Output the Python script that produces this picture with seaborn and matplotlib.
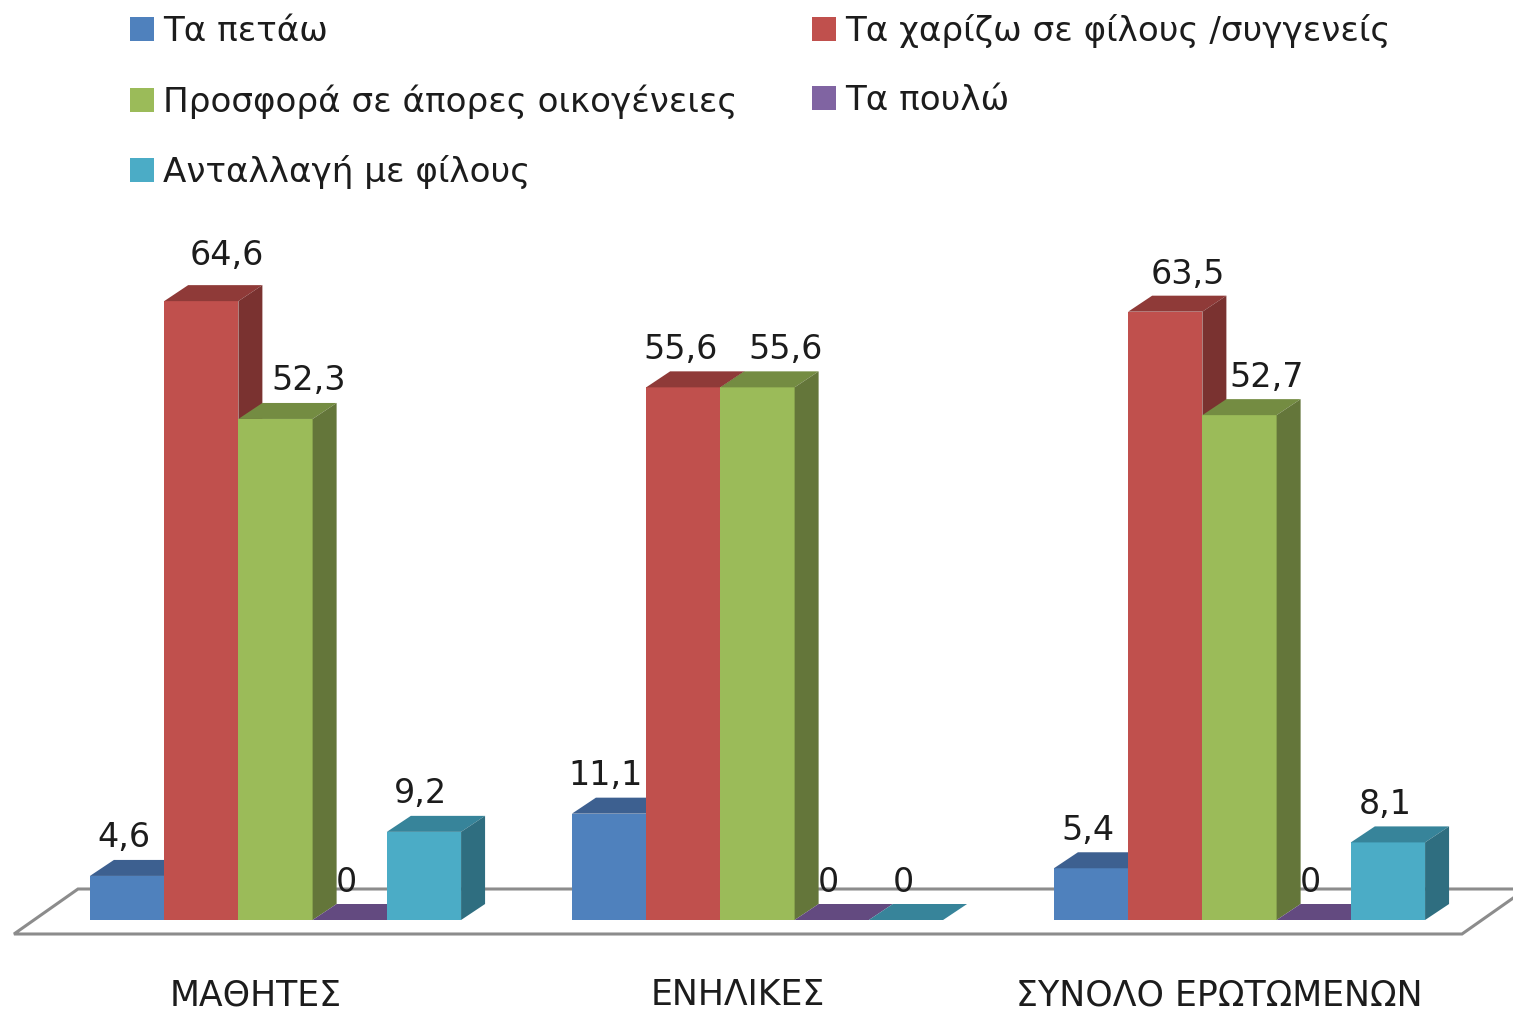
import matplotlib
matplotlib.use("Agg")
import matplotlib.pyplot as plt
import numpy as np
import pandas as pd
import seaborn as sns
from matplotlib.patches import Polygon

# data
groups = ["ΜΑΘΗΤΕΣ", "ΕΝΗΛΙΚΕΣ", "ΣΥΝΟΛΟ ΕΡΩΤΩΜΕΝΩΝ"]
series = [
    "Τα πετάω",
    "Τα χαρίζω σε φίλους /συγγενείς",
    "Προσφορά σε άπορες οικογένειες",
    "Τα πουλώ",
    "Ανταλλαγή με φίλους",
]
petao = [4.6, 11.1, 5.4]
charizo = [64.6, 55.6, 63.5]
prosfora = [52.3, 55.6, 52.7]
poulo = [0, 0, 0]
antallagi = [9.2, 0, 8.1]

front_colors = ["#4f81bd", "#c0504d", "#9bbb59", "#8064a2", "#4bacc6"]
top_colors = ["#3d6090", "#8f3a38", "#748c42", "#634a80", "#37849a"]
side_colors = ["#33527a", "#7a3230", "#64763a", "#553f6e", "#2f6e80"]

W, H = 1513, 1010
BASE_PX = 920  # pixel row of value 0
PX_PER_VALUE = 9.58
PX_PER_GROUP = 482
FIRST_GROUP_PX = 275.5
DEPTH_X, DEPTH_Y = 24, 16  # 3d depth in pixels
TEXT = "#1c1c1c"

df = pd.DataFrame(
    {"group": groups, series[0]: petao, series[1]: charizo, series[2]: prosfora,
     series[3]: poulo, series[4]: antallagi}
).melt(id_vars="group", var_name="series", value_name="value")

sns.set_theme(style="white")
plt.rcParams["font.family"] = ["DejaVu Sans"]

fig = plt.figure(figsize=(W / 100, H / 100), dpi=100, facecolor="white")
ax = fig.add_axes([0, (H - BASE_PX) / H, 1, BASE_PX / H])

sns.barplot(
    data=df, x="group", y="value", hue="series", order=groups, hue_order=series,
    palette=front_colors, width=0.77, gap=0, saturation=1, linewidth=0, ax=ax,
)

ax.set_xlim(-FIRST_GROUP_PX / PX_PER_GROUP, (W - FIRST_GROUP_PX) / PX_PER_GROUP)
ax.set_ylim(0, BASE_PX / PX_PER_VALUE)
ax.set_xlabel("")
ax.set_ylabel("")
ax.set_yticks([])
# category labels sit left of the group centres in the original
ax.set_xticks(np.arange(len(groups)) - 20 / PX_PER_GROUP, groups)
ax.tick_params(axis="x", length=0, pad=42, labelsize=25, labelcolor=TEXT)
sns.despine(ax=ax, left=True, bottom=True, top=True, right=True)

dx = DEPTH_X / PX_PER_GROUP
dy = DEPTH_Y / PX_PER_VALUE


def x_data(px):
    return (px - FIRST_GROUP_PX) / PX_PER_GROUP


def y_data(px):
    return (BASE_PX - px) / PX_PER_VALUE


# floor plate
floor = [(14, 934), (78, 889), (W + 13, 889), (1462, 934)]
ax.add_patch(Polygon([(x_data(a), y_data(b)) for a, b in floor], closed=True,
                     facecolor="white", edgecolor="#8c8c8c", linewidth=2.2,
                     clip_on=False, zorder=1))

# label nudges in pixels, keyed by (group, series)
nudge_x = {(0, 1): 26, (0, 2): 33, (1, 2): 28, (2, 1): 23, (2, 2): 27}
nudge_y = {(0, 1): 46, (2, 1): 37}

for s, bars in enumerate(ax.containers):
    for g, bar in enumerate(bars):
        x0, w, h = bar.get_x(), bar.get_width(), bar.get_height()
        bar.set_zorder(3 + s)
        x1 = x0 + w
        ax.add_patch(Polygon([(x0, h), (x0 + dx, h + dy), (x1 + dx, h + dy), (x1, h)],
                             facecolor=top_colors[s], edgecolor="none", zorder=3 + s))
        ax.add_patch(Polygon([(x1, 0), (x1 + dx, dy), (x1 + dx, h + dy), (x1, h)],
                             facecolor=side_colors[s], edgecolor="none", zorder=3 + s))
        label = f"{h:g}".replace(".", ",")
        ax.annotate(label, (x0 + w / 2, h),
                    xytext=(nudge_x.get((g, s), -3), nudge_y.get((g, s), 38)),
                    textcoords="offset pixels", ha="center", va="center",
                    fontsize=24, color=TEXT, zorder=20)

handles, labels = ax.get_legend_handles_labels()
order = [0, 2, 4, 1, 3]
ax.legend(
    [handles[i] for i in order], [labels[i] for i in order], ncol=2,
    loc="upper left", bbox_to_anchor=(130 / W, (BASE_PX - 14) / BASE_PX),
    frameon=False, fontsize=24.6, handlelength=0.7, handleheight=0.7,
    handletextpad=0.28, labelspacing=1.06, columnspacing=2.17, borderpad=0, borderaxespad=0,
    labelcolor=TEXT,
)

fig.savefig("out.png", dpi=100)
